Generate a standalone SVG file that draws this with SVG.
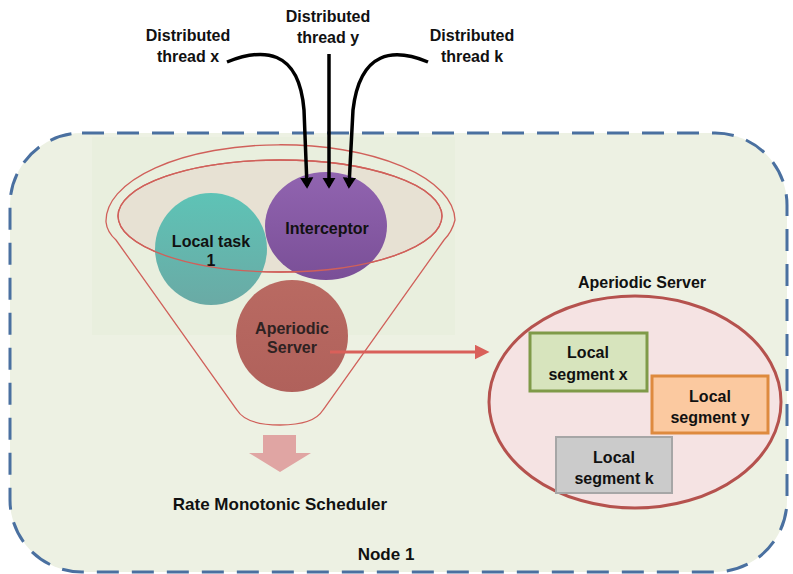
<svg xmlns="http://www.w3.org/2000/svg" width="793" height="574" viewBox="0 0 793 574">
<defs>
<style>
text{font-family:"Liberation Sans",Arial,sans-serif;font-weight:bold;font-size:16px;fill:#111;text-anchor:middle}
.thread{fill:none;stroke:#000;stroke-width:3.5}
.thin{fill:none;stroke:#d0605a;stroke-width:1.3}
</style>
<linearGradient id="gTeal" x1="0" y1="0" x2="0" y2="1"><stop offset="0" stop-color="#5ec3b6"/><stop offset="1" stop-color="#6aaaa5"/></linearGradient>
<linearGradient id="gPurp" x1="0" y1="0" x2="0" y2="1"><stop offset="0" stop-color="#9164b0"/><stop offset="1" stop-color="#7a4f97"/></linearGradient>
<linearGradient id="gRed" x1="0" y1="0" x2="0" y2="1"><stop offset="0" stop-color="#b96a62"/><stop offset="1" stop-color="#b0615b"/></linearGradient>
<marker id="ahB" markerWidth="4" markerHeight="4" refX="2.4" refY="2" orient="auto" markerUnits="strokeWidth"><path d="M0,0.1 L3.2,2 L0,3.9 Z" fill="#000"/></marker>
<marker id="ahR" markerWidth="5" markerHeight="5" refX="2.5" refY="2.5" orient="auto" markerUnits="strokeWidth"><path d="M0,0 L5,2.5 L0,5 Z" fill="#d9605a"/></marker>
</defs>
<g id="node1">
<rect x="10" y="133" width="777" height="439" rx="72" ry="72" fill="#edf1e3" stroke="#4a70a0" stroke-width="3" stroke-dasharray="22 13"/>
<rect x="92" y="137" width="363" height="198" fill="#e9efde"/>
<text x="386" y="560" style="font-size:17px">Node 1</text>
</g>
<g id="funnel">
<path class="thin" d="M106,222 A174,76 0 0 1 455,220 Q452,232 444,240 L323,410 Q314,425 280,425 Q246,425 237,410 L116,240 Q107,232 106,222 Z"/>
<ellipse cx="280" cy="216" rx="162" ry="56" fill="#e6dccf" fill-opacity="0.7" stroke="#d0605a" stroke-width="1.3"/>
</g>
<g id="local-task-1">
<circle cx="211" cy="249" r="56" fill="url(#gTeal)"/>
<text x="211" y="247">Local task</text>
<text x="211" y="266">1</text>
</g>
<g id="interceptor">
<ellipse cx="326" cy="226" rx="61" ry="54" fill="url(#gPurp)"/>
<ellipse cx="280" cy="216" rx="162" ry="56" fill="none" stroke="#d0605a" stroke-width="1.3"/>
<text x="327" y="234">Interceptor</text>
</g>
<g id="aperiodic-server-circle">
<circle cx="292" cy="336" r="56" fill="url(#gRed)"/>
<text x="292" y="334" style="fill:#2e2222">Aperiodic</text>
<text x="292" y="353" style="fill:#2e2222">Server</text>
</g>
<g id="thread-labels">
<text x="188" y="41">Distributed</text>
<text x="188" y="62">thread x</text>
<text x="328" y="22">Distributed</text>
<text x="328" y="43">thread y</text>
<text x="472" y="41">Distributed</text>
<text x="472" y="62">thread k</text>
</g>
<g id="aperiodic-server">
<text x="642" y="288">Aperiodic Server</text>
<ellipse cx="635" cy="402" rx="146" ry="106" fill="#f5e3e3" stroke="#b5524e" stroke-width="3"/>
</g>
<g id="segment-x">
<rect x="530" y="333" width="117" height="58" fill="#d7e4bd" stroke="#7f9a48" stroke-width="3"/>
<text x="588" y="358">Local</text>
<text x="588" y="380">segment x</text>
</g>
<g id="segment-y">
<rect x="652" y="376" width="116" height="57" fill="#fbc9a0" stroke="#de8a3e" stroke-width="3"/>
<text x="710" y="402">Local</text>
<text x="710" y="423">segment y</text>
</g>
<g id="segment-k">
<rect x="556" y="437" width="116" height="56" fill="#cbcbcb" stroke="#a6a6a6" stroke-width="2"/>
<text x="614" y="463">Local</text>
<text x="614" y="484">segment k</text>
</g>
<g id="scheduler">
<path d="M263,435 H296 V453 H311 L280,472 L249,453 H263 Z" fill="#e0a5a3"/>
<text x="280" y="510" style="font-size:17px">Rate Monotonic Scheduler</text>
</g>
<g id="connectors">
<path class="thread" d="M227,62 C262,48 299,48 304,110 L307,186" marker-end="url(#ahB)"/>
<path class="thread" d="M329,54 L329,186" marker-end="url(#ahB)"/>
<path class="thread" d="M428,62 C394,48 360,50 353,110 L349,186" marker-end="url(#ahB)"/>
<path d="M330,352 L482,352" stroke="#d9605a" stroke-width="3" fill="none" marker-end="url(#ahR)"/>
</g>
</svg>
